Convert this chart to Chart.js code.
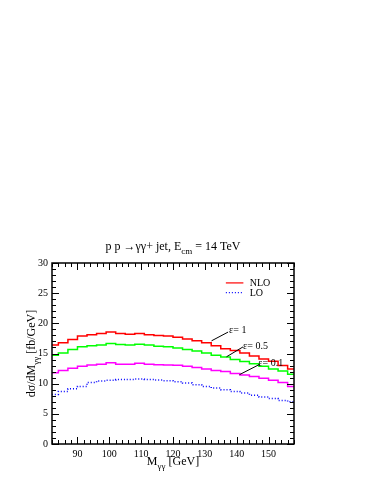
<!DOCTYPE html>
<html lang="en">
<head>
    <meta charset="UTF-8">
    <title>pp -> gamma gamma + jet</title>
    <style>
        body {
            margin: 0;
            padding: 0;
            background-color: #fff;
        }
        canvas {
            display: block;
        }
    </style>
</head>
<body>
    <canvas id="histChart" width="374" height="484"></canvas>
    <script src="https://cdn.jsdelivr.net/npm/chart.js"></script>
    <script>
        // left bin edges (GeV), 3 GeV wide bins
        const binEdges = [81, 84, 87, 90, 93, 96, 99, 102, 105, 108, 111, 114, 117,
                          120, 123, 126, 129, 132, 135, 138, 141, 144, 147, 150, 153, 156];
        const binWidth = 3;
        const nloEps1 = [16.4, 16.8, 17.3, 17.9, 18.1, 18.3, 18.55, 18.3, 18.2, 18.3, 18.1, 18.0, 17.9,
                         17.7, 17.4, 17.1, 16.8, 16.3, 15.8, 15.5, 15.1, 14.6, 14.1, 13.7, 13.0, 12.45];
        const nloEps05 = [14.7, 15.1, 15.67, 16.1, 16.3, 16.4, 16.67, 16.5, 16.4, 16.55, 16.4, 16.2, 16.1,
                          15.9, 15.67, 15.4, 15.1, 14.7, 14.4, 14.0, 13.67, 13.3, 12.9, 12.45, 12.1, 11.55];
        const nloEps01 = [11.8, 12.2, 12.55, 12.9, 13.1, 13.2, 13.45, 13.2, 13.2, 13.4, 13.2, 13.15, 13.1,
                          13.05, 12.9, 12.67, 12.45, 12.2, 12.0, 11.7, 11.45, 11.2, 10.9, 10.55, 10.2, 9.55];
        const loValues = [8.2, 8.7, 9.17, 9.55, 10.2, 10.45, 10.55, 10.67, 10.7, 10.78, 10.7, 10.6, 10.5,
                          10.33, 10.1, 9.83, 9.55, 9.28, 9.0, 8.7, 8.45, 8.1, 7.8, 7.55, 7.2, 7.0];
        const xTicks = [90, 100, 110, 120, 130, 140, 150];
        const yTicks = [0, 5, 10, 15, 20, 25, 30];

        const serif = '"Liberation Serif", "DejaVu Serif", serif';

        // histogram outline: one point per left edge plus closing right edge
        function histPoints(values) {
            const pts = binEdges.map((x, i) => ({ x: x, y: values[i] }));
            pts.push({ x: binEdges[binEdges.length - 1] + binWidth, y: values[values.length - 1] });
            return pts;
        }

        function line(color, dash) {
            return {
                borderColor: color,
                borderWidth: 1.5,
                borderDash: dash || [],
                pointRadius: 0,
                stepped: 'before',
                fill: false
            };
        }

        // draw text with a subscript part: parts = [[text, isSub], ...]
        function drawRich(ctx, parts, x, y, size, align) {
            const subSize = Math.round(size * 0.72);
            let total = 0;
            parts.forEach(p => {
                ctx.font = (p[1] ? subSize : size) + 'px ' + serif;
                total += ctx.measureText(p[0]).width;
            });
            let cx = align === 'center' ? x - total / 2 : x;
            parts.forEach(p => {
                ctx.font = (p[1] ? subSize : size) + 'px ' + serif;
                ctx.fillText(p[0], cx, p[1] ? y + size * 0.3 : y);
                cx += ctx.measureText(p[0]).width;
            });
        }

        const framePlugin = {
            id: 'frame',
            afterDraw(chart) {
                const ctx = chart.ctx;
                const a = chart.chartArea;
                const xs = chart.scales.x;
                const ys = chart.scales.y;
                ctx.save();
                ctx.strokeStyle = '#000';
                ctx.fillStyle = '#000';

                // inward ticks on all four sides
                ctx.lineWidth = 1;
                ctx.beginPath();
                for (let v = 82; v <= 158; v += 2) {
                    const px = Math.round(xs.getPixelForValue(v)) + 0.5;
                    const len = v % 10 === 0 ? 7 : 4;
                    ctx.moveTo(px, a.bottom); ctx.lineTo(px, a.bottom - len);
                    ctx.moveTo(px, a.top); ctx.lineTo(px, a.top + len);
                }
                for (let v = 0; v <= 30; v += 1) {
                    const py = Math.round(ys.getPixelForValue(v)) + 0.5;
                    const len = v % 5 === 0 ? 7 : 4;
                    ctx.moveTo(a.left, py); ctx.lineTo(a.left + len, py);
                    ctx.moveTo(a.right, py); ctx.lineTo(a.right - len, py);
                }
                ctx.stroke();

                ctx.lineWidth = 1.5;
                ctx.strokeRect(a.left, a.top, a.right - a.left, a.bottom - a.top);

                // title
                ctx.textBaseline = 'alphabetic';
                drawRich(ctx, [['p p \u2192\u03b3\u03b3+ jet, E', false], ['cm', true], [' = 14 TeV', false]],
                         (a.left + a.right) / 2, 250, 12, 'center');

                // x axis title
                drawRich(ctx, [['M', false], ['\u03b3\u03b3', true], [' [GeV]', false]],
                         (a.left + a.right) / 2, 465, 12, 'center');

                // y axis title
                ctx.save();
                ctx.translate(35, (a.top + a.bottom) / 2);
                ctx.rotate(-Math.PI / 2);
                drawRich(ctx, [['d\u03c3/dM', false], ['\u03b3\u03b3', true], [' [fb/GeV]', false]],
                         0, 0, 12, 'center');
                ctx.restore();

                // legend
                const legend = [['NLO', '#ff0000', [], 26.7], ['LO', '#0000ff', [1, 2], 25.1]];
                legend.forEach(l => {
                    const py = ys.getPixelForValue(l[3]);
                    ctx.beginPath();
                    ctx.strokeStyle = l[1];
                    ctx.lineWidth = 1.2;
                    ctx.setLineDash(l[2]);
                    ctx.moveTo(xs.getPixelForValue(136.6), py);
                    ctx.lineTo(xs.getPixelForValue(142.1), py);
                    ctx.stroke();
                    ctx.setLineDash([]);
                    ctx.font = '10px ' + serif;
                    ctx.textBaseline = 'middle';
                    ctx.fillText(l[0], xs.getPixelForValue(144.1), py + 0.5);
                });

                // epsilon labels with pointer lines
                const notes = [
                    ['\u03b5= 1', 132.1, 17.1, 137.3, 18.55, 137.6, 18.4],
                    ['\u03b5= 0.5', 136.8, 14.45, 142.0, 16.1, 142.0, 15.8],
                    ['\u03b5= 0.1', 140.9, 11.5, 147.2, 13.2, 146.8, 12.9]
                ];
                ctx.strokeStyle = '#000';
                ctx.lineWidth = 1;
                ctx.textBaseline = 'alphabetic';
                notes.forEach(n => {
                    ctx.beginPath();
                    ctx.moveTo(xs.getPixelForValue(n[1]), ys.getPixelForValue(n[2]));
                    ctx.lineTo(xs.getPixelForValue(n[3]), ys.getPixelForValue(n[4]));
                    ctx.stroke();
                    ctx.font = '10px ' + serif;
                    ctx.fillText(n[0], xs.getPixelForValue(n[5]), ys.getPixelForValue(n[6]));
                });
                ctx.restore();
            }
        };

        new Chart(document.getElementById('histChart').getContext('2d'), {
            type: 'line',
            data: {
                datasets: [
                    Object.assign({ label: 'eps=1', data: histPoints(nloEps1) }, line('#ff0000')),
                    Object.assign({ label: 'eps=0.5', data: histPoints(nloEps05) }, line('#00ff00')),
                    Object.assign({ label: 'eps=0.1', data: histPoints(nloEps01) }, line('#ff00ff')),
                    Object.assign({ label: 'LO', data: histPoints(loValues) }, line('#0000ff', [1, 2]))
                ]
            },
            options: {
                responsive: false,
                animation: false,
                devicePixelRatio: 1,
                layout: { padding: { left: 0, right: 80, top: 263, bottom: 0 } },
                plugins: {
                    legend: { display: false },
                    tooltip: { enabled: false }
                },
                scales: {
                    x: {
                        type: 'linear',
                        min: 82,
                        max: 158,
                        grid: { display: false, drawTicks: false },
                        border: { display: false },
                        afterBuildTicks: s => { s.ticks = xTicks.map(v => ({ value: v })); },
                        afterFit: s => { s.height = 40; },
                        ticks: { color: '#000', padding: 4, font: { family: serif, size: 10 } }
                    },
                    y: {
                        type: 'linear',
                        min: 0,
                        max: 30,
                        grid: { display: false, drawTicks: false },
                        border: { display: false },
                        afterBuildTicks: s => { s.ticks = yTicks.map(v => ({ value: v })); },
                        afterFit: s => { s.width = 52; },
                        ticks: { color: '#000', padding: 4, font: { family: serif, size: 10 } }
                    }
                }
            },
            plugins: [framePlugin]
        });
    </script>
</body>
</html>
